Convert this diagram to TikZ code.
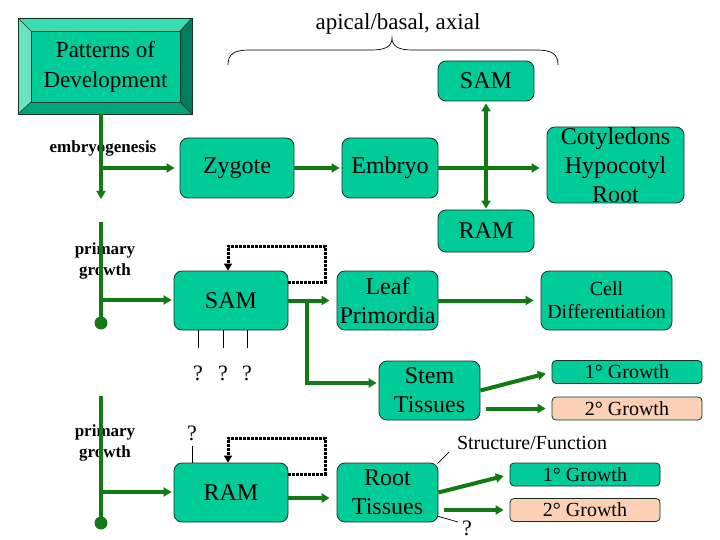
\documentclass[tikz,border=0pt]{standalone}
\usepackage{fontspec}
\setmainfont{Liberation Serif}
\usetikzlibrary{arrows.meta}
\definecolor{tealf}{RGB}{0,204,153}
\definecolor{peach}{RGB}{251,208,180}
\definecolor{gcol}{RGB}{18,122,18}
\definecolor{bevtop}{RGB}{60,220,178}
\definecolor{bevleft}{RGB}{105,228,195}
\definecolor{bevright}{RGB}{0,125,92}
\definecolor{bevbot}{RGB}{0,165,122}
\definecolor{edgec}{RGB}{20,50,35}
\begin{document}
\begin{tikzpicture}[x=1pt,y=-1pt,
  box/.style={draw=edgec, line width=0.8pt, fill=tealf, rounded corners=8pt, inner sep=0pt,
    font=\fontsize{24}{29}\selectfont, align=center},
  sbox/.style={draw=edgec, line width=0.8pt, fill=tealf, rounded corners=4pt, inner sep=0pt,
    font=\fontsize{20}{24}\selectfont, minimum width=150, minimum height=23},
  pbox/.style={sbox, fill=peach},
  lbl/.style={inner sep=0pt, align=center},
  side/.style={lbl, font=\fontsize{17}{21}\selectfont\bfseries},
  qm/.style={lbl, font=\fontsize{22}{26}\selectfont},
  gl/.style={draw=gcol, line width=4pt},
  garr/.style={gl, -{Triangle[length=8pt,width=9pt]}},
  dotarr/.style={draw=black, line width=3pt, dash pattern=on 2.5pt off 1.5pt, -{Triangle[length=7pt,width=8pt]}},
  thinl/.style={draw=black, line width=0.7pt}
]
\useasboundingbox (0,0) rectangle (720,540);

% beveled title box
\fill[bevtop] (18,18) -- (192,18) -- (180,31) -- (31,31) -- cycle;
\fill[bevleft] (18,18) -- (31,31) -- (31,102) -- (18,114) -- cycle;
\fill[bevright] (192,18) -- (192,114) -- (180,102) -- (180,31) -- cycle;
\fill[bevbot] (18,114) -- (192,114) -- (180,102) -- (31,102) -- cycle;
\fill[tealf] (31,31) rectangle (180,102);
\draw[edgec, line width=0.8pt] (18,18) rectangle (192,114);
\draw[edgec, line width=0.5pt] (31,31) rectangle (180,102);
\draw[edgec, line width=0.5pt] (18,18) -- (31,31) (192,18) -- (180,31) (192,114) -- (180,102) (18,114) -- (31,102);
\node[lbl, font=\fontsize{23}{30}\selectfont] (pat) at (105.5,66.5) {Patterns of\\Development};

% brace and label
\draw[black, line width=0.7pt] (228,65) .. controls (228,54) and (234,50) .. (250,50) -- (372,50)
  .. controls (386,50) and (392,46) .. (392,38) .. controls (392,46) and (398,50) .. (412,50)
  -- (536,50) .. controls (552,50) and (558,54) .. (558,65);
\node[lbl, font=\fontsize{23}{27}\selectfont] (apical) at (398,24) {apical/basal, axial};

% boxes
\node[box, minimum width=96, minimum height=40] (samt) at (486,81) {SAM};
\node[box, minimum width=114, minimum height=60] (zyg) at (237,168) {Zygote};
\node[box, minimum width=96, minimum height=60] (emb) at (390,168) {Embryo};
\node[box, minimum width=137, minimum height=76] (coty) at (615.5,165) {Cotyledons\\Hypocotyl\\Root};
\node[box, minimum width=96, minimum height=42] (ramt) at (486,231) {RAM};
\node[box, minimum width=114, minimum height=59] (sam) at (231,300.5) {SAM};
\node[box, minimum width=101, minimum height=59] (leaf) at (387.5,300.5) {Leaf\\Primordia};
\node[box, minimum width=131, minimum height=59, font=\fontsize{20}{23}\selectfont] (cell) at (606.5,300.5) {Cell\\Differentiation};
\node[box, minimum width=101, minimum height=59] (stem) at (429.5,390.5) {Stem\\Tissues};
\node[sbox] (g1s) at (627,372) {1° Growth};
\node[pbox] (g2s) at (627,408.5) {2° Growth};
\node[box, minimum width=114, minimum height=59] (ram) at (231,492.5) {RAM};
\node[box, minimum width=101, minimum height=59] (root) at (387.5,492.5) {Root\\Tissues};
\node[sbox] (g1r) at (585,474.5) {1° Growth};
\node[pbox] (g2r) at (585,510) {2° Growth};

% side labels
\node[side] (embg) at (103,148) {embryogenesis};
\node[side] (pg1) at (105,261) {primary\\growth};
\node[side] (pg2) at (105,443) {primary\\growth};
\node[lbl, font=\fontsize{20}{24}\selectfont] (sf) at (532,443) {Structure/Function};
\node[qm] (q1) at (198,373) {?};
\node[qm] (q2) at (223,373) {?};
\node[qm] (q3) at (247,373) {?};
\node[qm] (q4) at (192,433) {?};
\node[qm] (q5) at (467,528) {?};

% left spines
\coordinate (v1top) at (101,114);
\coordinate (v1bot) at (101,199);
\coordinate (b1) at (101,168);
\coordinate (v2top) at (101,222);
\coordinate (v2dot) at (101,323);
\coordinate (b2) at (101,300);
\coordinate (v3top) at (101,396);
\coordinate (v3dot) at (101,523);
\coordinate (b3) at (101,492);
\draw[garr] (v1top) -- (v1bot);
\draw[garr, shorten >=5pt] (b1) -- (zyg.west |- b1);
\draw[gl] (v2top) -- (v2dot);
\fill[gcol] (v2dot) circle (6.5);
\draw[garr, shorten >=2pt] (b2) -- (sam.west |- b2);
\draw[gl] (v3top) -- (v3dot);
\fill[gcol] (v3dot) circle (6.5);
\draw[garr, shorten >=2pt] (b3) -- (ram.west |- b3);

% main connectors
\draw[garr, shorten >=2pt] (zyg.east) -- (emb.west);
\draw[garr, shorten >=7pt] (emb.east) -- (emb.east -| coty.west);
\draw[gl, {Triangle[length=8pt,width=9pt]}-{Triangle[length=8pt,width=9pt]}, shorten <=2pt, shorten >=1pt]
  (samt.south) -- (ramt.north);
\draw[garr, shorten >=7pt] (sam.east) -- (leaf.west);
\coordinate (b4) at (307,300);
\draw[garr, shorten >=2pt] (b4) |- ([yshift=7.5pt]stem.west);
\draw[garr, shorten >=7pt] (leaf.east) -- (cell.west);
\draw[garr, shorten >=6pt] (stem.east) -- (g1s.west);
\draw[garr, shorten >=6pt] ([xshift=6pt]stem.east |- g2s.west) -- (g2s.west);
\draw[garr, shorten >=6pt] (root.east) -- (g1r.west);
\draw[garr, shorten >=6pt] ([xshift=6pt]root.east |- g2r.west) -- (g2r.west);
\draw[garr, shorten >=7pt] ([yshift=-5.5pt]ram.east) -- (root.west |- 0,498);

% dotted feedback loops
\draw[dotarr] ([yshift=18.5pt]sam.east) -| (325,246) -| ([xshift=-3pt]sam.north);
\draw[dotarr] ([yshift=18.5pt]ram.east) -| (325,438) -| ([xshift=-3pt]ram.north);

% thin lines
\draw[thinl] (q1 |- sam.south) -- (198,348);
\draw[thinl] (q2 |- sam.south) -- (223,348);
\draw[thinl] (q3 |- sam.south) -- (247,348);
\draw[thinl] (192,446) -- (q4 |- ram.north);
\coordinate (sfend) at (449,452);
\draw[thinl] ([xshift=-1pt,yshift=-1pt]root.north east) -- (sfend);
\coordinate (q5end) at (458,522);
\draw[thinl] (437,516) -- (q5end);
\end{tikzpicture}
\end{document}
